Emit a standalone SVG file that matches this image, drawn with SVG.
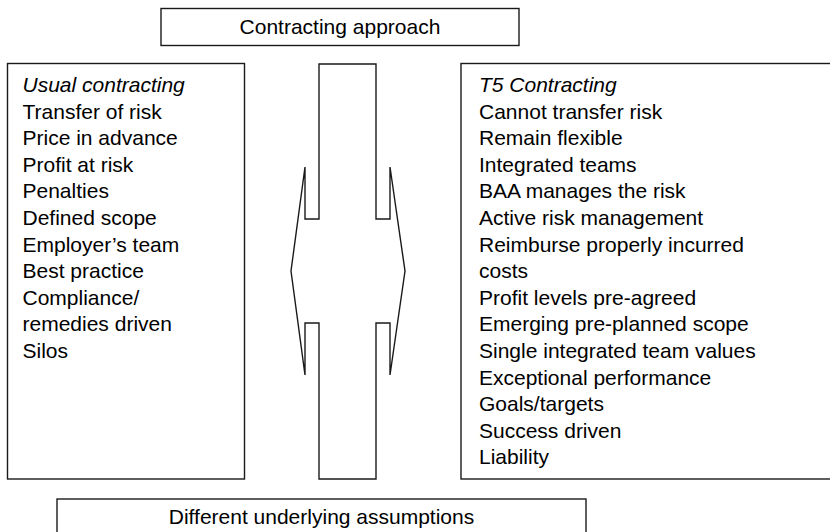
<svg xmlns="http://www.w3.org/2000/svg" width="830" height="532" viewBox="0 0 830 532">
  <style>
    .box { fill: #ffffff; stroke: #1a1a1a; stroke-width: 1.4; }
    .label { font-family: "Liberation Sans", Arial, Helvetica, sans-serif; font-size: 21px; fill: #000000; }
    .center { text-anchor: middle; }
    .head { font-style: italic; }
  </style>

  <rect width="830" height="532" fill="#ffffff"/>

  <!-- Title -->
  <g id="title">
    <rect class="box" x="161" y="8.5" width="358" height="37"/>
    <text class="label center" x="340" y="33.5">Contracting approach</text>
  </g>

  <!-- Left column -->
  <g id="usual">
    <rect class="box" x="7.5" y="63.5" width="237" height="415.5"/>
    <text class="label" x="22.5" y="92">
      <tspan class="head" x="22.5">Usual contracting</tspan>
      <tspan x="22.5" dy="26.6">Transfer of risk</tspan>
      <tspan x="22.5" dy="26.6">Price in advance</tspan>
      <tspan x="22.5" dy="26.6">Profit at risk</tspan>
      <tspan x="22.5" dy="26.6">Penalties</tspan>
      <tspan x="22.5" dy="26.6">Defined scope</tspan>
      <tspan x="22.5" dy="26.6">Employer’s team</tspan>
      <tspan x="22.5" dy="26.6">Best practice</tspan>
      <tspan x="22.5" dy="26.6">Compliance/</tspan>
      <tspan x="22.5" dy="26.6">remedies driven</tspan>
      <tspan x="22.5" dy="26.6">Silos</tspan>
    </text>
  </g>

  <!-- Right column -->
  <g id="t5">
    <rect class="box" x="461" y="63.5" width="380" height="415.5"/>
    <text class="label" x="479" y="92">
      <tspan class="head" x="479">T5 Contracting</tspan>
      <tspan x="479" dy="26.6">Cannot transfer risk</tspan>
      <tspan x="479" dy="26.6">Remain flexible</tspan>
      <tspan x="479" dy="26.6">Integrated teams</tspan>
      <tspan x="479" dy="26.6">BAA manages the risk</tspan>
      <tspan x="479" dy="26.6">Active risk management</tspan>
      <tspan x="479" dy="26.6">Reimburse properly incurred</tspan>
      <tspan x="479" dy="26.6">costs</tspan>
      <tspan x="479" dy="26.6">Profit levels pre-agreed</tspan>
      <tspan x="479" dy="26.6">Emerging pre-planned scope</tspan>
      <tspan x="479" dy="26.6">Single integrated team values</tspan>
      <tspan x="479" dy="26.6">Exceptional performance</tspan>
      <tspan x="479" dy="26.6">Goals/targets</tspan>
      <tspan x="479" dy="26.6">Success driven</tspan>
      <tspan x="479" dy="26.6">Liability</tspan>
    </text>
  </g>

  <!-- Footer -->
  <g id="assumptions">
    <rect class="box" x="57" y="499" width="529" height="37"/>
    <text class="label center" x="321.5" y="524">Different underlying assumptions</text>
  </g>

  <!-- Double-headed arrow between the columns -->
  <g id="connectors">
    <path class="box" d="M305,167 L305,219 L319,219 L319,64 L376,64 L376,219 L390,219 L390,167 L405,271 L390,375 L390,323 L376,323 L376,479 L319,479 L319,323 L305,323 L305,375 L291,271 Z"/>
  </g>
</svg>
